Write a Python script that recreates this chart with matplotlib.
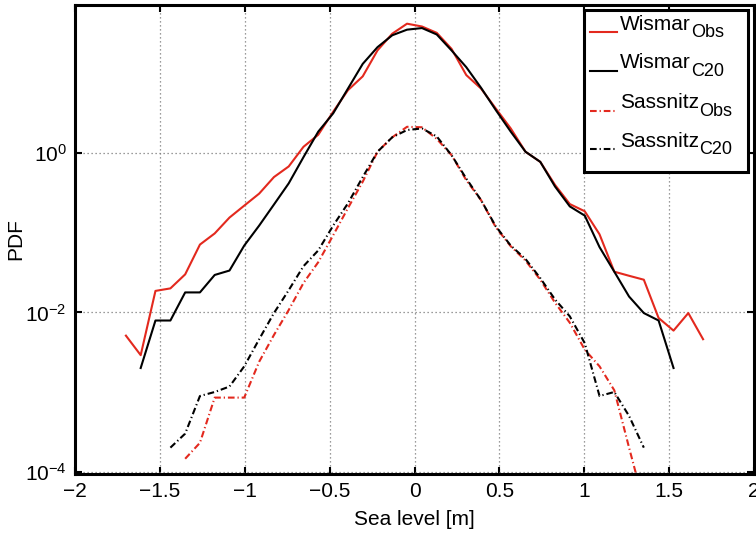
import matplotlib
matplotlib.use("Agg")
import matplotlib.pyplot as plt
import matplotlib.ticker as ticker
from matplotlib.lines import Line2D
from matplotlib.patches import Rectangle
from matplotlib.text import Annotation

plt.rcParams['font.family'] = ['Liberation Sans', 'DejaVu Sans']
plt.rcParams['mathtext.fontset'] = 'custom'
plt.rcParams['mathtext.rm'] = 'Liberation Sans'
plt.rcParams['mathtext.it'] = 'Liberation Sans'
plt.rcParams['mathtext.default'] = 'regular'

# bin centres of the sea level histogram [m]
x_bins = [-1.700, -1.613, -1.526, -1.438, -1.351, -1.264, -1.177, -1.090, -1.003, -0.915,
          -0.828, -0.741, -0.654, -0.567, -0.479, -0.392, -0.305, -0.218, -0.131, -0.044,
          0.044, 0.131, 0.218, 0.305, 0.392, 0.479, 0.567, 0.654, 0.741, 0.828,
          0.915, 1.003, 1.090, 1.177, 1.264, 1.351, 1.438, 1.526, 1.613, 1.700]

# Wismar observed, bins 0..39
wismar_obs = [0.0051, 0.0029, 0.0186, 0.020, 0.030, 0.071, 0.098, 0.155, 0.219, 0.31,
              0.50, 0.68, 1.20, 1.70, 3.31, 6.17, 9.2, 19.5, 31.6, 42.2,
              38.9, 32.4, 20.4, 9.55, 6.46, 3.63, 2.04, 1.04, 0.776, 0.398,
              0.229, 0.186, 0.0955, 0.0324, 0.0288, 0.0257, 0.0085, 0.0059, 0.0098, 0.0046]

# Wismar C20, bins 1..37
wismar_c20 = [0.0020, 0.0079, 0.0079, 0.0178, 0.0178, 0.0295, 0.0335, 0.069, 0.123,
              0.226, 0.417, 0.89, 1.86, 3.16, 6.46, 13.2, 21.4, 30.2, 35.5,
              37.2, 30.9, 19.5, 12.0, 6.61, 3.47, 1.86, 1.04, 0.776, 0.38,
              0.214, 0.164, 0.066, 0.0324, 0.0158, 0.0098, 0.0079, 0.0020]

# Sassnitz observed, bins 4..35
sassnitz_obs = [0.000145, 0.00023, 0.00085, 0.00085, 0.00085, 0.0024,
                0.0052, 0.0107, 0.0234, 0.0427, 0.093, 0.204, 0.437, 1.04, 1.58, 2.14,
                2.11, 1.51, 0.944, 0.457, 0.257, 0.117, 0.0676, 0.0447, 0.0257, 0.0132,
                0.0074, 0.0034, 0.0021, 0.00105, 0.0002, 0.00004]

# Sassnitz C20, bins 3..35
sassnitz_c20 = [0.0002, 0.0003, 0.00089, 0.001, 0.00117, 0.0021, 0.0046,
                0.0098, 0.019, 0.038, 0.060, 0.123, 0.234, 0.50, 1.04, 1.58, 1.95,
                2.04, 1.62, 0.944, 0.479, 0.257, 0.120, 0.069, 0.0468, 0.0269, 0.0145,
                0.0089, 0.0041, 0.00089, 0.001, 0.0005, 0.0002]

names = ['Wismar', 'Wismar', 'Sassnitz', 'Sassnitz']
subs = ['Obs', 'C20', 'Obs', 'C20']

red = '#e3291e'
dashdot = (0, (3.2, 1.4, 0.6, 1.4))
colors = [red, 'black', red, 'black']
styles = ['-', '-', dashdot, dashdot]
W, H = 756, 541

fig = plt.figure(figsize=(W / 100, H / 100), dpi=100)
ax = fig.add_axes([75 / W, 1 - 474 / H, 679 / W, 469 / H])

ax.plot(x_bins, wismar_obs, color=colors[0], lw=1.5, linestyle=styles[0])
ax.plot(x_bins[1:38], wismar_c20, color=colors[1], lw=1.5, linestyle=styles[1])
ax.plot(x_bins[4:36], sassnitz_obs, color=colors[2], lw=1.5, linestyle=styles[2])
ax.plot(x_bins[3:36], sassnitz_c20, color=colors[3], lw=1.5, linestyle=styles[3])

ax.set_yscale('log')
ax.set_xlim(-2, 2)
ax.set_ylim(10 ** -4.03, 10 ** 1.86)
ax.set_xticks([-2, -1.5, -1, -0.5, 0, 0.5, 1, 1.5, 2])
ax.set_xticklabels(['\u22122', '\u22121.5', '\u22121', '\u22120.5', '0', '0.5', '1', '1.5', '2'])
ax.yaxis.set_major_locator(ticker.FixedLocator([1e-4, 1e-2, 1e0]))
ax.yaxis.set_minor_locator(ticker.NullLocator())
ax.yaxis.set_major_formatter(ticker.LogFormatterMathtext())

ax.grid(True, which='major', linestyle=(0, (1, 2.2)), color='#7a7a7a', lw=0.9)
ax.tick_params(direction='in', length=5, width=1.5, labelsize=15, top=True, right=True,
               pad=6)
for s in ax.spines.values():
    s.set_linewidth(2.2)

ax.set_xlabel('Sea level [m]', fontsize=15, labelpad=6)
ax.set_ylabel('PDF', fontsize=15)
ax.yaxis.set_label_coords(-0.073, 0.5)

# legend in MATLAB style: box, short handles, names with large, low subscripts
fig.add_artist(Rectangle((584 / W, 1 - 172 / H), 164 / W, 162 / H,
                         transform=fig.transFigure, facecolor='white',
                         edgecolor='black', lw=2.2, zorder=5))
row_y = [29.5, 68.5, 108.5, 147]
for i in range(4):
    y = 1 - (row_y[i] + 2) / H
    fig.add_artist(Line2D([590 / W, 617 / W], [y, y], transform=fig.transFigure,
                          color=colors[i], lw=1.5, linestyle=styles[i], zorder=6))
    t = fig.text(620 / W, 1 - row_y[i] / H, names[i], fontsize=15, va='baseline',
                 zorder=6)
    fig.add_artist(Annotation(subs[i], xy=(1, 0), xycoords=t, xytext=(0.3, -2.3),
                              textcoords='offset points', fontsize=13, ha='left',
                              va='baseline', zorder=7))

fig.savefig('out.png', dpi=100)
